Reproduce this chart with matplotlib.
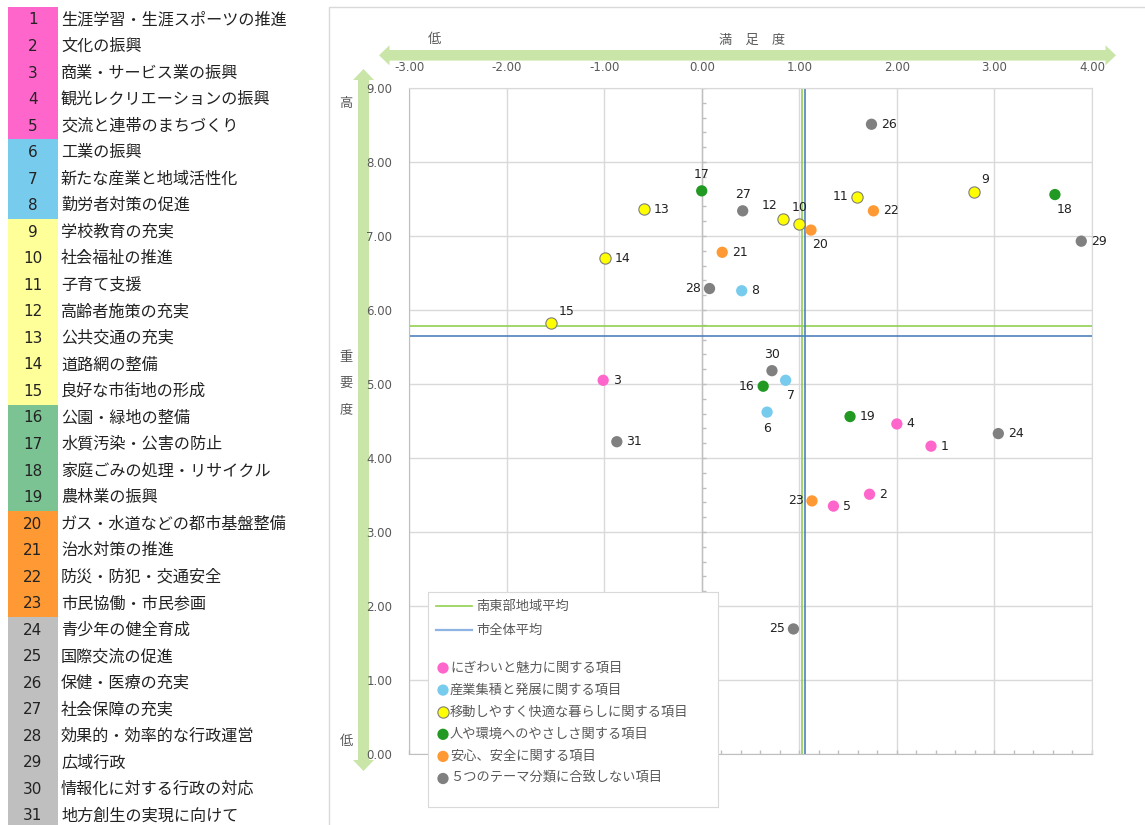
import numpy as np
import matplotlib
matplotlib.use("Agg")
import matplotlib.pyplot as plt
from matplotlib.patches import Rectangle, Polygon
from matplotlib.lines import Line2D

plt.rcParams['font.family'] = ['Noto Sans CJK JP', 'DejaVu Sans']

# ---- data ----
item_names = [
    "生涯学習・生涯スポーツの推進", "文化の振興", "商業・サービス業の振興",
    "観光レクリエーションの振興", "交流と連帯のまちづくり", "工業の振興",
    "新たな産業と地域活性化", "勤労者対策の促進", "学校教育の充実",
    "社会福祉の推進", "子育て支援", "高齢者施策の充実", "公共交通の充実",
    "道路網の整備", "良好な市街地の形成", "公園・緑地の整備",
    "水質汚染・公害の防止", "家庭ごみの処理・リサイクル", "農林業の振興",
    "ガス・水道などの都市基盤整備", "治水対策の推進", "防災・防犯・交通安全",
    "市民協働・市民参画", "青少年の健全育成", "国際交流の促進",
    "保健・医療の充実", "社会保障の充実", "効果的・効率的な行政運営",
    "広域行政", "情報化に対する行政の対応", "地方創生の実現に向けて",
]
# theme group of each item (0..5)
item_group = [0] * 5 + [1] * 3 + [2] * 7 + [3] * 4 + [4] * 4 + [5] * 8

satisfaction = [2.35, 1.72, -1.01, 2.00, 1.35, 0.67, 0.86, 0.41, 2.79, 1.00,
                1.59, 0.83, -0.59, -0.99, -1.54, 0.63, 0.00, 3.62, 1.52, 1.12,
                0.21, 1.76, 1.13, 3.04, 0.94, 1.74, 0.42, 0.08, 3.89, 0.72,
                -0.87]
importance = [4.16, 3.51, 5.05, 4.46, 3.35, 4.62, 5.05, 6.26, 7.60, 7.16,
              7.53, 7.23, 7.36, 6.70, 5.82, 4.97, 7.61, 7.56, 4.56, 7.08,
              6.78, 7.34, 3.42, 4.33, 1.69, 8.51, 7.34, 6.29, 6.93, 5.18,
              4.22]

group_names = [
    "にぎわいと魅力に関する項目", "産業集積と発展に関する項目",
    "移動しやすく快適な暮らしに関する項目", "人や環境へのやさしさ関する項目",
    "安心、安全に関する項目", "５つのテーマ分類に合致しない項目",
]
avg_region = (1.03, 5.79)   # 南東部地域平均 (満足度, 重要度)
avg_city = (1.06, 5.65)     # 市全体平均

# ---- styles ----
marker_colors = ["#FF66CC", "#77CCEE", "#FFFF00", "#229922", "#FF9933", "#808080"]
cell_colors = ["#FF66CC", "#77CCEE", "#FFFF99", "#7CC394", "#FF9933", "#BFBFBF"]
# label placement of each point number
label_pos = ["r", "r", "r", "r", "r", "b", "br", "r", "tr", "t",
             "l", "tl", "r", "r", "tr", "l", "t", "br", "r", "br",
             "r", "r", "l", "r", "l", "r", "t", "l", "r", "t",
             "r"]
offsets = {"r": (7, 0, "left", "center"), "l": (-6, 0, "right", "center"),
           "t": (0, 7, "center", "bottom"), "b": (0, -7, "center", "top"),
           "tr": (5, 4, "left", "bottom"), "br": (1, -6, "left", "top"),
           "tl": (-4, 5, "right", "bottom")}
arrow_green = "#C9E6A8"
W, H = 1145, 825

fig = plt.figure(figsize=(W / 100, H / 100), dpi=100)

# background layer in pixel coordinates
bg = fig.add_axes([0, 0, 1, 1], zorder=0)
bg.set_xlim(0, W)
bg.set_ylim(H, 0)
bg.axis("off")

row_h = 26.53
for i, name in enumerate(item_names):
    cy = 20 + i * row_h
    bg.add_patch(Rectangle((8, cy - row_h / 2), 50, row_h,
                           color=cell_colors[item_group[i]], lw=0))
    bg.text(33, cy, str(i + 1), ha="center", va="center", fontsize=11,
            color="#222222", family="DejaVu Sans")
    bg.text(61, cy, name, ha="left", va="center", fontsize=11.6, color="#222222")

# chart area border
bg.plot([328.5, 328.5, W], [H, 7, 7], color="#D9D9D9", lw=1)

# axis arrows
hy, hs, hh, hl = 55.3, 5.3, 10, 10.5
x0, x1 = 379, 1116
bg.add_patch(Polygon([(x0, hy), (x0 + hl, hy - hh), (x0 + hl, hy - hs),
                      (x1 - hl, hy - hs), (x1 - hl, hy - hh), (x1, hy),
                      (x1 - hl, hy + hh), (x1 - hl, hy + hs), (x0 + hl, hy + hs),
                      (x0 + hl, hy + hh)], closed=True, color=arrow_green, lw=0))
vx, vs, vh, vl = 363.5, 5.5, 10.5, 11
y0, y1 = 69, 771
bg.add_patch(Polygon([(vx, y0), (vx + vh, y0 + vl), (vx + vs, y0 + vl),
                      (vx + vs, y1 - vl), (vx + vh, y1 - vl), (vx, y1),
                      (vx - vh, y1 - vl), (vx - vs, y1 - vl), (vx - vs, y0 + vl),
                      (vx - vh, y0 + vl)], closed=True, color=arrow_green, lw=0))

txt = dict(fontsize=9.5, color="#595959", ha="center", va="center")
bg.text(434, 40, "低", **txt)
bg.text(752, 40, "満　足　度", **txt)
bg.text(346, 104, "高", **txt)
for k, ch in enumerate("重要度"):
    bg.text(346, 357 + k * 26.5, ch, **txt)
bg.text(346, 742, "低", **txt)

# ---- main scatter ----
ax = fig.add_axes([409 / W, 1 - 754 / H, (1092 - 409) / W, (754 - 88) / H], zorder=1)
ax.set_xlim(-3, 4)
ax.set_ylim(0, 9)
ax.set_xticks(np.arange(-3, 4.01, 1))
ax.set_yticks(np.arange(0, 9.01, 1))
ax.set_xticklabels([f"{v:.2f}" for v in np.arange(-3, 4.01, 1)], family="DejaVu Sans")
ax.set_yticklabels([f"{v:.2f}" for v in np.arange(0, 9.01, 1)], family="DejaVu Sans")
ax.xaxis.tick_top()
ax.tick_params(axis="x", length=0, pad=10, labelsize=8.5, labelcolor="#595959")
ax.tick_params(axis="y", length=0, pad=12, labelsize=8.5, labelcolor="#595959")
ax.grid(True, color="#D9D9D9", lw=1)
ax.set_axisbelow(True)
for s in ["top", "right"]:
    ax.spines[s].set_color("#D9D9D9")
for s in ["left", "bottom"]:
    ax.spines[s].set_color("#BFBFBF")

# value axes crossing at 0 with minor ticks
ax.axvline(0, color="#BFBFBF", lw=1, zorder=1.5)
ax.plot(np.zeros(46), np.arange(0, 9.01, 0.2), ls="none", marker=1, ms=3,
        color="#BFBFBF", mew=1, zorder=1.5)
ax.plot(np.arange(-3, 4.01, 0.2), np.zeros(36), ls="none", marker=2, ms=3,
        color="#BFBFBF", mew=1, zorder=1.5, clip_on=False)

ax.axvline(avg_region[0], color="#92D050", lw=1.2, zorder=2)
ax.axhline(avg_region[1], color="#92D050", lw=1.2, zorder=2)
ax.axvline(avg_city[0], color="#4F81BD", lw=1.2, zorder=2)
ax.axhline(avg_city[1], color="#4F81BD", lw=1.2, zorder=2)

for i in range(len(item_names)):
    g = item_group[i]
    ax.scatter(satisfaction[i], importance[i], s=66, color=marker_colors[g],
               edgecolors="#7F7F7F" if g == 2 else "none", linewidths=0.8,
               zorder=3)
    dx, dy, ha, va = offsets[label_pos[i]]
    ax.annotate(str(i + 1), (satisfaction[i], importance[i]),
                xytext=(dx, dy), textcoords="offset points", ha=ha, va=va,
                fontsize=9, color="#222222", family="DejaVu Sans", zorder=4)

# ---- legend box ----
lg = fig.add_axes([428 / W, 1 - 807 / H, 290 / W, 215 / H], zorder=2)
lg.set_xlim(428, 718)
lg.set_ylim(807, 592)
lg.set_xticks([])
lg.set_yticks([])
for s in lg.spines.values():
    s.set_color("#D9D9D9")
lg.add_line(Line2D([436, 472], [606, 606], color="#92D050", lw=1.2))
lg.text(476, 606, "南東部地域平均", ha="left", va="center", fontsize=9.5, color="#595959")
lg.add_line(Line2D([436, 472], [630, 630], color="#8EB4E3", lw=1.6))
lg.text(476, 630, "市全体平均", ha="left", va="center", fontsize=9.5, color="#595959")
for g, gname in enumerate(group_names):
    yy = 668 + g * 22.1
    lg.scatter(443, yy, s=66, color=marker_colors[g],
               edgecolors="#7F7F7F" if g == 2 else "none", linewidths=0.8)
    lg.text(450, yy, gname, ha="left", va="center", fontsize=9.5, color="#595959")

fig.savefig("out.png", dpi=100)
